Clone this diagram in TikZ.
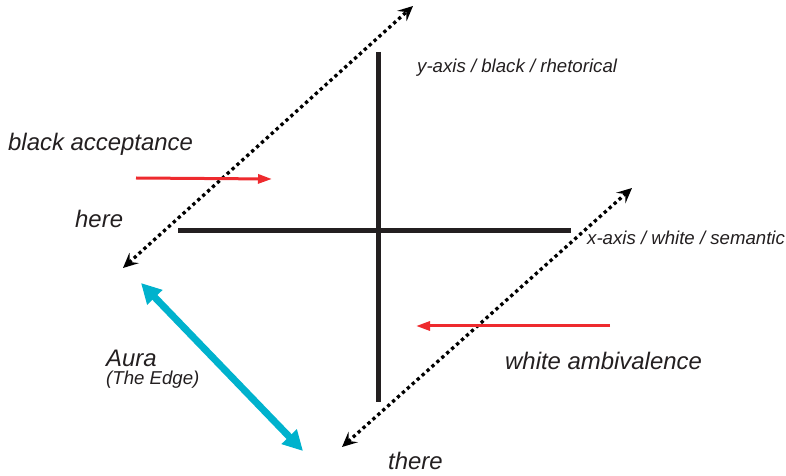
\documentclass[tikz,border=0pt]{standalone}
\usepackage{fontspec}
\setmainfont{Liberation Sans}
\usetikzlibrary{arrows.meta}
\definecolor{ink}{HTML}{231F20}
\definecolor{aura}{HTML}{00B2CD}
\definecolor{redarr}{HTML}{EE2A2E}
\tikzset{
  axisline/.style={ink, line width=5bp},
  dotarrow/.style={black, line width=3.3bp, dash pattern=on 3.3bp off 3.3bp,
    {Stealth[length=15bp,width=14bp,inset=6bp]}-{Stealth[length=15bp,width=14bp,inset=6bp]}},
  redarrow/.style={redarr, line width=3bp, -{Triangle[length=14bp,width=9bp]}},
  auraarrow/.style={aura, line width=7bp, {Triangle[length=20bp,width=20bp]}-{Triangle[length=20bp,width=20bp]}},
  bigtxt/.style={ink, font=\fontsize{24}{26}\selectfont\itshape, inner sep=0pt, anchor=base west},
  smalltxt/.style={ink, font=\fontsize{18.7}{21}\selectfont\itshape, inner sep=0pt, anchor=base west},
}
\begin{document}
\begin{tikzpicture}[x=1bp,y=-1bp]
\useasboundingbox (0,0) rectangle (786,476);
% axes
\coordinate (yt) at (378,52);
\coordinate (yb) at (378,402);
\coordinate (xl) at (178,231);
\coordinate (xr) at (571,231);
\draw[axisline] (yt) -- (yb);
\draw[axisline] (xl) -- (xr);
% dotted arrows
\coordinate (d1a) at (123,268);
\coordinate (d1b) at (413,6);
\coordinate (d2a) at (342,447);
\coordinate (d2b) at (632,188);
\draw[dotarrow] (d1a) -- (d1b);
\draw[dotarrow] (d2a) -- (d2b);
% red arrows
\coordinate (r1a) at (136,178);
\coordinate (r1b) at (272,179);
\coordinate (r2a) at (610,326);
\coordinate (r2b) at (416,326);
\draw[redarrow] (r1a) -- (r1b);
\draw[redarrow] (r2a) -- (r2b);
% aura arrow
\coordinate (aa) at (141,283);
\coordinate (ab) at (303,451);
\draw[auraarrow] (aa) -- (ab);
% texts
\node[bigtxt] (blackacc) at (8,151) {black acceptance};
\node[bigtxt] (here) at (75,228) {here};
\node[smalltxt] (yaxis) at (417,73) {y-axis / black / rhetorical};
\node[smalltxt] (xaxis) at (587,245) {x-axis / white / semantic};
\node[bigtxt] (whiteamb) at (505,370) {white ambivalence};
\node[bigtxt] (aura) at (106,367) {Aura};
\node[smalltxt] (edge) at (106,385) {(The Edge)};
\node[bigtxt] (there) at (388,469) {there};
\end{tikzpicture}
\end{document}
